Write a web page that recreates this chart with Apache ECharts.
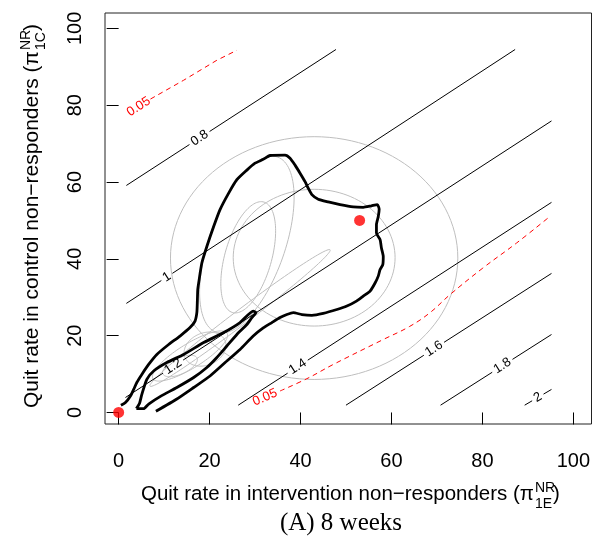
<!DOCTYPE html>
<html>
<head>
<meta charset="utf-8">
<script src="https://cdn.jsdelivr.net/npm/echarts@6/dist/echarts.min.js"></script>
<style>
html, body { margin: 0; padding: 0; background: #fff; }
#chart { width: 593px; height: 544px; }
</style>
</head>
<body>
<div id="chart"></div>
<script>
// axis ticks
const xTicks = [0, 20, 40, 60, 80, 100];
const yTicks = [0, 20, 40, 60, 80, 100];

// straight ratio contours: label, start, end, label position
const ratioLevels = ['0.8', '1', '1.2', '1.4', '1.6', '1.8', '2'];
const ratioStart = [[1.7, 59.1], [1.7, 28.4], [1.5, 3.9], [26.3, 1.9], [50.0, 1.9], [70.8, 1.9], [89.3, 1.9]];
const ratioEnd = [[47.8, 94.5], [87.2, 94.5], [95.2, 75.9], [95.2, 54.7], [95.2, 36.2], [95.2, 20.3], [95.2, 6.0]];
const ratioLabelAt = [[17.6, 71.8], [10.6, 35.3], [12.1, 11.7], [39.5, 11.7], [69.5, 16.3], [84.2, 12.5], [92.2, 3.9]];

// red 0.05 contours
const sigUpper = [[7.0, 81.6], [14.3, 86.5], [21.6, 91.7], [26.0, 94.3]];
const sigUpperLabel = [4.4, 79.6];
const sigLower = [[35.5, 5.6], [41.4, 8.8], [47.2, 12.5], [58.2, 19.0], [64.0, 22.4], [68.5, 26.0], [72.8, 30.6],
  [80.1, 37.6], [87.5, 44.1], [94.4, 50.6]];
const sigLowerLabel = [32.2, 3.9];

// thick black region
const regionOuter = [[0.5, 1.9], [1.5, 2.6], [2.6, 4.3], [3.3, 6.0], [4.0, 7.8], [5.1, 9.9], [6.6, 12.5],
  [8.4, 15.1], [11.0, 17.7], [13.5, 19.9], [15.7, 22.1], [16.8, 23.8], [17.2, 26.0], [17.3, 28.5],
  [17.4, 32.0], [17.6, 33.7], [18.3, 38.9], [19.4, 43.2], [20.9, 48.4], [22.3, 52.8], [24.2, 57.1],
  [26.0, 60.6], [28.2, 63.1], [30.0, 64.9], [31.8, 65.9], [33.3, 66.9], [36.6, 67.0], [37.7, 66.2],
  [38.8, 64.4], [39.9, 62.3], [41.0, 60.1], [41.7, 58.4], [42.5, 56.7], [43.9, 55.5], [46.1, 54.8],
  [48.7, 54.1], [51.6, 53.5], [53.8, 53.4], [55.6, 53.8], [56.9, 54.1], [57.3, 52.9], [57.1, 51.0],
  [56.7, 48.9], [56.7, 46.7], [57.5, 45.0], [57.8, 42.8], [58.2, 40.6], [58.1, 38.5], [57.5, 37.2],
  [57.1, 35.5], [56.4, 33.7], [55.3, 31.6], [53.8, 30.3], [52.3, 29.0], [50.2, 27.7], [48.0, 26.8],
  [45.0, 25.8], [42.5, 25.3], [40.3, 25.5], [38.4, 26.0], [37.0, 25.5], [35.5, 24.7], [33.7, 23.4],
  [31.8, 22.0], [29.6, 19.9], [26.7, 16.4], [23.8, 13.4], [20.1, 9.5], [16.5, 6.5], [12.8, 3.5], [8.2, 0.3]];
const regionInner = [[3.9, 1.0], [4.6, 2.4], [5.1, 4.7], [6.2, 8.6], [7.7, 10.8], [10.6, 13.0], [14.3, 15.1],
  [18.7, 18.2], [23.1, 20.8], [26.7, 23.4], [29.6, 26.4], [30.2, 26.0], [29.3, 24.7], [28.2, 22.9],
  [26.0, 20.3], [23.8, 17.3], [21.6, 14.3], [19.4, 11.7], [16.5, 9.1], [12.8, 6.5], [9.2, 4.2],
  [6.6, 2.2], [5.5, 1.0], [3.9, 1.0]];

// gray ellipses: centre x, centre y, semi-major, semi-minor, angle (deg)
const grayEllipses = [
  [43.0, 40.2, 31.6, 31.6, 0],
  [43.0, 40.3, 17.8, 17.8, 0],
  [28.2, 43.7, 23.8, 8.5, 74.4],
  [28.5, 40.4, 14.8, 5.2, 77.3],
  [26.7, 24.6, 26.6, 1.8, 41.9],
  [15.7, 14.7, 10.1, 3.0, 37],
  [13.5, 12.1, 4.3, 2.0, 31],
  [19.0, 16.5, 5.0, 4.0, 40]
];

// red points
const redPoints = [[0, 0], [53, 50]];

const chart = echarts.init(document.getElementById('chart'), null, { renderer: 'canvas' });

function labelWidth(s) {
  let w = 0;
  for (const ch of s) w += ch === '.' ? 3.6 : 7.2;
  return w;
}

function renderRatio(params, api) {
  const i = api.value(2);
  const a = api.coord(ratioStart[i]);
  const b = api.coord(ratioEnd[i]);
  const c = api.coord(ratioLabelAt[i]);
  const dx = b[0] - a[0], dy = b[1] - a[1];
  const len = Math.hypot(dx, dy);
  const ux = dx / len, uy = dy / len;
  const t = (c[0] - a[0]) * ux + (c[1] - a[1]) * uy;
  const half = labelWidth(ratioLevels[i]) / 2 + 3;
  const t1 = Math.max(0, t - half), t2 = Math.min(len, t + half);
  const style = { stroke: '#000', lineWidth: 1 };
  const children = [];
  if (t1 > 0) {
    children.push({ type: 'line', shape: { x1: a[0], y1: a[1], x2: a[0] + ux * t1, y2: a[1] + uy * t1 }, style });
  }
  if (t2 < len) {
    children.push({ type: 'line', shape: { x1: a[0] + ux * t2, y1: a[1] + uy * t2, x2: b[0], y2: b[1] }, style });
  }
  children.push({
    type: 'text', x: a[0] + ux * t, y: a[1] + uy * t, rotation: -Math.atan2(uy, ux),
    style: { text: ratioLevels[i], align: 'center', verticalAlign: 'middle', fontSize: 13,
      fontFamily: 'Liberation Sans', fill: '#000' }
  });
  return { type: 'group', children };
}

function renderSigLabel(params, api) {
  const p = api.coord([api.value(0), api.value(1)]);
  const q = api.coord([api.value(2), api.value(3)]);
  return {
    type: 'text', x: p[0], y: p[1], rotation: -Math.atan2(q[1] - p[1], q[0] - p[0]),
    style: { text: '0.05', align: 'center', verticalAlign: 'middle', fontSize: 13,
      fontFamily: 'Liberation Sans', fill: '#ff0000' }
  };
}

function renderEllipse(params, api) {
  const cx = api.value(0), cy = api.value(1), a = api.value(2), b = api.value(3);
  const th = api.value(4) * Math.PI / 180;
  const pts = [];
  for (let k = 0; k < 120; k++) {
    const s = k / 120 * Math.PI * 2;
    const ex = a * Math.cos(s), ey = b * Math.sin(s);
    pts.push(api.coord([cx + ex * Math.cos(th) - ey * Math.sin(th), cy + ex * Math.sin(th) + ey * Math.cos(th)]));
  }
  return { type: 'polygon', shape: { points: pts }, style: { fill: 'none', stroke: '#bebebe', lineWidth: 1 } };
}

const axisCommon = {
  type: 'value', min: -3, max: 104,
  axisLine: { show: false },
  splitLine: { show: false },
  axisTick: { show: true, length: 12, lineStyle: { color: '#000', width: 1 } },
  axisLabel: { color: '#000', fontSize: 20, fontFamily: 'Liberation Sans' }
};

const option = {
  animation: false,
  textStyle: { fontFamily: 'Liberation Sans' },
  grid: { left: 105, right: 1, top: 13, bottom: 120, show: true, borderColor: '#222', borderWidth: 1 },
  xAxis: Object.assign({}, axisCommon, {
    axisTick: Object.assign({}, axisCommon.axisTick, { customValues: xTicks }),
    axisLabel: Object.assign({}, axisCommon.axisLabel, { customValues: xTicks, margin: 27 })
  }),
  yAxis: Object.assign({}, axisCommon, {
    axisTick: Object.assign({}, axisCommon.axisTick, { customValues: yTicks }),
    axisLabel: Object.assign({}, axisCommon.axisLabel, { customValues: yTicks, rotate: 90, margin: 20 })
  }),
  series: [
    {
      type: 'custom', name: 'gray', coordinateSystem: 'cartesian2d', silent: true, z: 1,
      encode: { x: 0, y: 1 }, renderItem: renderEllipse, data: grayEllipses
    },
    {
      type: 'custom', name: 'ratio', coordinateSystem: 'cartesian2d', silent: true, z: 2,
      encode: { x: 0, y: 1 }, renderItem: renderRatio,
      data: ratioLevels.map((lv, i) => [ratioLabelAt[i][0], ratioLabelAt[i][1], i])
    },
    {
      type: 'line', name: 'sigUpper', data: sigUpper, showSymbol: false, silent: true, z: 3,
      lineStyle: { color: '#ff0000', width: 1, type: [5, 4] }
    },
    {
      type: 'line', name: 'sigLower', data: sigLower, showSymbol: false, silent: true, z: 3, smooth: 0.4,
      lineStyle: { color: '#ff0000', width: 1, type: [5, 4] }
    },
    {
      type: 'custom', name: 'sigLabels', coordinateSystem: 'cartesian2d', silent: true, z: 3,
      encode: { x: 0, y: 1 }, renderItem: renderSigLabel,
      data: [sigUpperLabel.concat(sigUpper[0]), sigLowerLabel.concat(sigLower[0])]
    },
    {
      type: 'line', name: 'outer', data: regionOuter, showSymbol: false, silent: true, z: 4, smooth: 0.2,
      lineStyle: { color: '#000', width: 2.8 }
    },
    {
      type: 'line', name: 'inner', data: regionInner, showSymbol: false, silent: true, z: 4, smooth: 0.2,
      lineStyle: { color: '#000', width: 2.8 }
    },
    {
      type: 'scatter', name: 'points', data: redPoints, symbolSize: 11, silent: true, z: 5,
      itemStyle: { color: '#ff0000' }
    }
  ],
  graphic: [
    {
      type: 'group', x: 0, y: 0, silent: true,
      children: [
        { type: 'text', x: 534, y: 494, style: { text: 'Quit rate in intervention non\u2212responders (\u03c0',
          fontSize: 20.5, fontFamily: 'Liberation Sans', fill: '#000', align: 'right', verticalAlign: 'middle' } },
        { type: 'text', x: 535, y: 488, style: { text: 'NR', fontSize: 14, fontFamily: 'Liberation Sans',
          fill: '#000', align: 'left', verticalAlign: 'middle' } },
        { type: 'text', x: 535, y: 504, style: { text: '1E', fontSize: 14, fontFamily: 'Liberation Sans',
          fill: '#000', align: 'left', verticalAlign: 'middle' } },
        { type: 'text', x: 553, y: 494, style: { text: ')', fontSize: 20.5, fontFamily: 'Liberation Sans',
          fill: '#000', align: 'left', verticalAlign: 'middle' } }
      ]
    },
    {
      type: 'group', x: 32, y: 215, rotation: Math.PI / 2, silent: true,
      children: [
        { type: 'text', x: 164, y: 0, style: { text: 'Quit rate in control non\u2212responders (\u03c0',
          fontSize: 21, fontFamily: 'Liberation Sans', fill: '#000', align: 'right', verticalAlign: 'middle' } },
        { type: 'text', x: 165, y: -6, style: { text: 'NR', fontSize: 14, fontFamily: 'Liberation Sans',
          fill: '#000', align: 'left', verticalAlign: 'middle' } },
        { type: 'text', x: 165, y: 9, style: { text: '1C', fontSize: 14, fontFamily: 'Liberation Sans',
          fill: '#000', align: 'left', verticalAlign: 'middle' } },
        { type: 'text', x: 184, y: 0, style: { text: ')', fontSize: 21, fontFamily: 'Liberation Sans',
          fill: '#000', align: 'left', verticalAlign: 'middle' } }
      ]
    },
    {
      type: 'text', x: 341, y: 523, silent: true,
      style: { text: '(A) 8 weeks', fontSize: 25, fontFamily: 'Liberation Serif', fill: '#000',
        align: 'center', verticalAlign: 'middle' }
    }
  ]
};

chart.setOption(option);
</script>
</body>
</html>
